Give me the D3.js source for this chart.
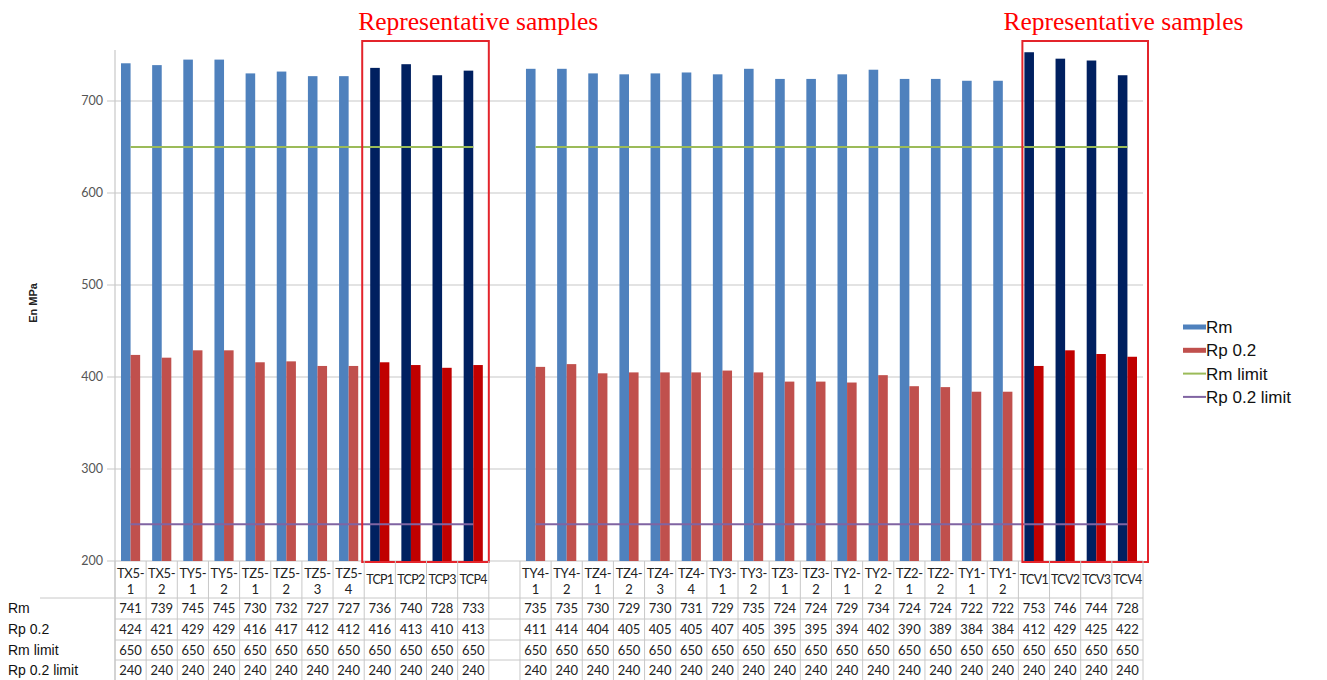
<!DOCTYPE html>
<html>
<head>
<meta charset="utf-8">
<script src="https://cdn.jsdelivr.net/npm/d3@7"></script>
<style>
  body { margin: 0; background: #fff; }
</style>
</head>
<body>
<div id="chart"></div>
<script>
// samples, "" is the empty slot between the two groups
const categories = ["TX5-1","TX5-2","TY5-1","TY5-2","TZ5-1","TZ5-2","TZ5-3","TZ5-4","TCP1","TCP2","TCP3","TCP4",
  "",
  "TY4-1","TY4-2","TZ4-1","TZ4-2","TZ4-3","TZ4-4","TY3-1","TY3-2","TZ3-1","TZ3-2","TY2-1","TY2-2","TZ2-1","TZ2-2","TY1-1","TY1-2","TCV1","TCV2","TCV3","TCV4"];
const rm = [741,739,745,745,730,732,727,727,736,740,728,733,
  null,
  735,735,730,729,730,731,729,735,724,724,729,734,724,724,722,722,753,746,744,728];
const rp = [424,421,429,429,416,417,412,412,416,413,410,413,
  null,
  411,414,404,405,405,405,407,405,395,395,394,402,390,389,384,384,412,429,425,422];
const rmLimit = categories.map(c => c === "" ? null : 650);
const rpLimit = categories.map(c => c === "" ? null : 240);
const representative = [["TCP1","TCP4"],["TCV1","TCV4"]];
const yTicks = [200,300,400,500,600,700];
const rowNames = ["Rm","Rp 0.2","Rm limit","Rp 0.2 limit"];

const W = 1327, H = 680;
const left = 115, right = 1143, bottom = 561;
const sans = "'Liberation Sans', Arial, sans-serif";
const calib = "Lato, 'Noto Sans', sans-serif";

const svg = d3.select("#chart").append("svg")
  .attr("width", W).attr("height", H)
  .attr("font-family", sans);

const x = d3.scaleBand().domain(d3.range(categories.length)).range([left, right]).padding(0);
const bw = x.bandwidth();
const xs = d3.scaleBand().domain(["rm","rp"]).range([6, bw - 6]).padding(0);
const y = d3.scaleLinear().domain([200, 700]).range([bottom, 101]);

// gridlines
svg.append("g").selectAll("line").data(yTicks).join("line")
  .attr("x1", left - 8).attr("x2", right)
  .attr("y1", d => y(d)).attr("y2", d => y(d))
  .attr("stroke", "#c8c8c8").attr("stroke-width", 1.2);

svg.append("line").attr("x1", left).attr("x2", left)
  .attr("y1", 50).attr("y2", H).attr("stroke", "#c8c8c8").attr("stroke-width", 1.2);

svg.append("g").selectAll("text").data(yTicks).join("text")
  .attr("x", left - 12).attr("y", d => y(d)).attr("dy", "0.35em")
  .attr("text-anchor", "end").attr("font-size", 12.5).attr("fill", "#555")
  .attr("font-family", calib)
  .text(d => d);

svg.append("text")
  .attr("transform", "translate(37,303) rotate(-90)")
  .attr("text-anchor", "middle").attr("font-size", 11).attr("font-weight", "bold")
  .attr("font-family", sans)
  .attr("fill", "#222").text("En MPa");

const isRep = c => c.startsWith("TC");
const idx = d3.range(categories.length).filter(i => rm[i] != null);

// bars
const bars = svg.append("g");
bars.selectAll("rect.rm").data(idx).join("rect")
  .attr("x", i => x(i) + xs("rm"))
  .attr("width", xs.bandwidth())
  .attr("y", i => y(rm[i])).attr("height", i => bottom - y(rm[i]))
  .attr("fill", i => isRep(categories[i]) ? "#002060" : "#4f81bd");
bars.selectAll("rect.rp").data(idx).join("rect")
  .attr("x", i => x(i) + xs("rp"))
  .attr("width", xs.bandwidth())
  .attr("y", i => y(rp[i])).attr("height", i => bottom - y(rp[i]))
  .attr("fill", i => isRep(categories[i]) ? "#c00000" : "#c0504d");

// limit lines
const line = d3.line()
  .defined(d => d != null)
  .x((d, i) => x(i) + bw / 2)
  .y(d => y(d));
svg.append("path").datum(rmLimit).attr("d", line)
  .attr("fill", "none").attr("stroke", "#9bbb59").attr("stroke-width", 2);
svg.append("path").datum(rpLimit).attr("d", line)
  .attr("fill", "none").attr("stroke", "#8064a2").attr("stroke-width", 2);

// red boxes + annotation
const boxOffsets = [[-2, 0], [4, 5]];
const textShift = [-4, -19];
representative.forEach((r, k) => {
  const i0 = categories.indexOf(r[0]), i1 = categories.indexOf(r[1]);
  const x0 = x(i0) + boxOffsets[k][0], x1 = x(i1) + bw + boxOffsets[k][1];
  svg.append("rect").attr("x", x0).attr("y", 41)
    .attr("width", x1 - x0).attr("height", bottom + 1 - 41)
    .attr("fill", "none").attr("stroke", "#e3242b").attr("stroke-width", 2);
  svg.append("text")
    .attr("x", x0 + textShift[k]).attr("y", 30)
    .attr("font-family", "'Liberation Serif', 'Times New Roman', serif")
    .attr("font-size", 25.5).attr("fill", "#ff0000")
    .text("Representative samples");
});

// data table
const rowY = [561, 598, 619, 640, 660, 681];
const table = svg.append("g").attr("stroke", "#c8c8c8").attr("stroke-width", 1);
table.append("line").attr("x1", 40).attr("x2", right).attr("y1", 598).attr("y2", 598);
rowY.slice(2, 5).forEach(yy => {
  table.append("line").attr("x1", left).attr("x2", right).attr("y1", yy).attr("y2", yy);
});
d3.range(categories.length + 1).forEach(i => {
  const xx = i < categories.length ? x(i) : right;
  table.append("line").attr("x1", xx).attr("x2", xx).attr("y1", bottom).attr("y2", H);
});

const catLabels = svg.append("g").attr("font-size", 13).attr("fill", "#222").attr("text-anchor", "middle")
  .attr("font-family", calib);
categories.forEach((c, i) => {
  if (!c) return;
  const cx = x(i) + bw / 2;
  const h = c.indexOf("-");
  if (h < 0) {
    catLabels.append("text").attr("x", cx).attr("y", 580).attr("dy", "0.35em")
      .attr("font-size", 12.5).attr("letter-spacing", -0.7).text(c);
  } else {
    catLabels.append("text").attr("x", cx).attr("y", 573).attr("dy", "0.35em")
      .attr("letter-spacing", -0.3).text(c.slice(0, h + 1));
    catLabels.append("text").attr("x", cx).attr("y", 589).attr("dy", "0.35em").text(c.slice(h + 1));
  }
});

const rows = [rm, rp, rmLimit, rpLimit];
const vals = svg.append("g").attr("font-size", 13).attr("fill", "#222").attr("text-anchor", "middle")
  .attr("font-family", calib);
rows.forEach((arr, r) => {
  const cy = (rowY[r + 1] + rowY[r + 2]) / 2;
  arr.forEach((v, i) => {
    if (v == null) return;
    vals.append("text").attr("x", x(i) + bw / 2).attr("y", cy).attr("dy", "0.35em").text(v);
  });
  svg.append("text").attr("x", 8).attr("y", cy).attr("dy", "0.35em")
    .attr("font-size", 14).attr("fill", "#111").text(rowNames[r]);
});

// legend
const legendItems = [
  { name: "Rm", color: "#4f81bd", h: 5 },
  { name: "Rp 0.2", color: "#c0504d", h: 5 },
  { name: "Rm limit", color: "#9bbb59", h: 2 },
  { name: "Rp 0.2 limit", color: "#8064a2", h: 2 }
];
const lg = svg.append("g").attr("transform", "translate(1183,327)");
legendItems.forEach((d, i) => {
  lg.append("rect").attr("x", 0).attr("y", i * 23.3 - d.h / 2)
    .attr("width", 23).attr("height", d.h).attr("fill", d.color);
  lg.append("text").attr("x", 23).attr("y", i * 23.3).attr("dy", "0.35em")
    .attr("font-size", 17).attr("fill", "#111").text(d.name);
});
</script>
</body>
</html>
